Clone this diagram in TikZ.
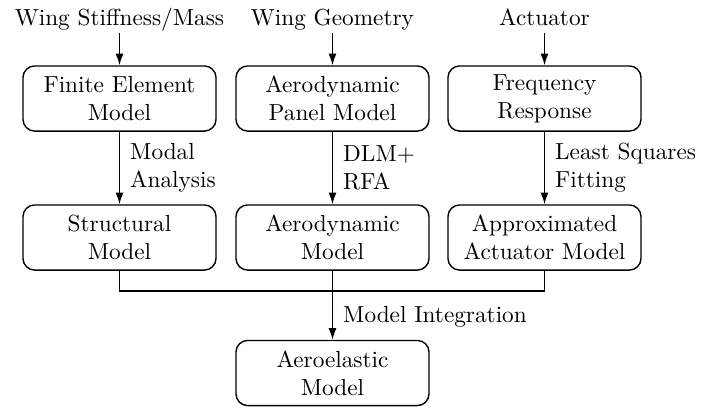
\documentclass[tikz,border=0pt]{standalone}
\usetikzlibrary{arrows.meta}
\begin{document}
\begin{tikzpicture}[x=0.43pt,y=-0.43pt,
  blk/.style={draw,rounded corners=5pt,minimum width=83pt,minimum height=28pt,align=center,inner sep=1pt,line width=0.6pt},
  src/.style={anchor=base,text height=7pt,text depth=2pt,inner sep=1.4pt},
  lbl/.style={anchor=west,align=left,inner sep=1pt,xshift=3.3pt},
  arr/.style={-{Latex[length=5pt,width=3.4pt]},line width=0.6pt}]
\useasboundingbox (0,0) rectangle (701,411);
\node[src] (s1) at (119.5,25) {Wing Stiffness/Mass};
\node[src] (s2) at (332.5,25) {Wing Geometry};
\node[src] (s3) at (544.5,25) {Actuator};
\node[blk] (fe) at (119.5,98.5) {Finite Element\\Model};
\node[blk] (ap) at (332.5,98.5) {Aerodynamic\\Panel Model};
\node[blk] (fr) at (544.5,98.5) {Frequency\\Response};
\node[blk] (sm) at (119.5,237.5) {Structural\\Model};
\node[blk] (am) at (332.5,237.5) {Aerodynamic\\Model};
\node[blk] (aa) at (544.5,237.5) {Approximated\\Actuator Model};
\node[blk] (ae) at (332.5,373) {Aeroelastic\\Model};
\draw[arr] (s1.south) -- (fe.north);
\draw[arr] (s2.south) -- (ap.north);
\draw[arr] (s3.south) -- (fr.north);
\draw[arr] (fe) -- node[lbl] (l1) {Modal\\Analysis} (sm);
\draw[arr] (ap) -- node[lbl] (l2) {DLM+\\RFA} (am);
\draw[arr] (fr) -- node[lbl] (l3) {Least Squares\\Fitting} (aa);
\coordinate (j) at (332.5,291);
\draw[line width=0.6pt] (sm.south) |- (j) -| (aa.south);
\draw[arr] (am.south) -- node[lbl,pos=0.67] (l4) {Model Integration} (ae.north);
\end{tikzpicture}
\end{document}
